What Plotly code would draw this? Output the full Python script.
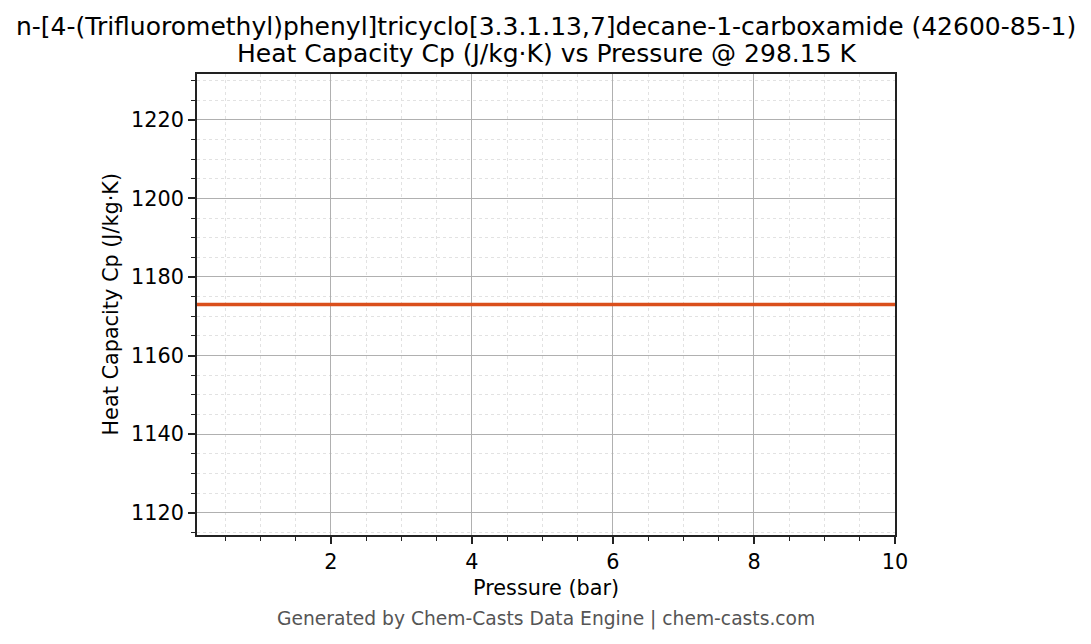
import plotly.graph_objects as go

pressure_bar = [0.1, 1, 2, 3, 4, 5, 6, 7, 8, 9, 10]
cp_values = [1173.0] * len(pressure_bar)
x_ticks = [2, 4, 6, 8, 10]
y_ticks = [1120, 1140, 1160, 1180, 1200, 1220]

title_line1 = "n-[4-(Trifluoromethyl)phenyl]tricyclo[3.3.1.13,7]decane-1-carboxamide (42600-85-1)"
title_line2 = "Heat Capacity Cp (J/kg·K) vs Pressure @ 298.15 K"
x_label = "Pressure (bar)"
y_label = "Heat Capacity Cp (J/kg·K)"
footer = "Generated by Chem-Casts Data Engine | chem-casts.com"

font = "DejaVu Sans, sans-serif"

fig = go.Figure()
fig.add_trace(go.Scatter(x=pressure_bar, y=cp_values, mode="lines",
                         line=dict(color="#DA4F1C", width=3.5), showlegend=False))

cp_mid = cp_values[0]
axis_common = dict(
    showline=True, linecolor="#222", linewidth=1.7, mirror=True,
    ticks="outside", ticklen=7, tickwidth=1.6, tickcolor="#222",
    showgrid=True, gridcolor="#b0b0b0", gridwidth=1,
    zeroline=False,
    tickfont=dict(family=font, size=20.8, color="#000"),
)
fig.update_xaxes(
    range=[0.1, 10], tickvals=x_ticks,
    minor=dict(dtick=0.5, tick0=0, ticks="outside", ticklen=4, tickwidth=1.2, tickcolor="#222",
               showgrid=True, gridcolor="#e2e2e2", gridwidth=0.7, griddash="dot"),
    **axis_common)
fig.update_yaxes(
    range=[cp_mid * 0.95, cp_mid * 1.05], tickvals=y_ticks,
    minor=dict(dtick=5, tick0=0, ticks="outside", ticklen=4, tickwidth=1.2, tickcolor="#222",
               showgrid=True, gridcolor="#e2e2e2", gridwidth=0.7, griddash="dot"),
    **axis_common)

fig.update_layout(
    width=1091, height=644,
    margin=dict(l=189, r=204, t=66, b=117),
    paper_bgcolor="white", plot_bgcolor="white",
    font=dict(family=font, color="#000"),
    annotations=[
        dict(text=title_line1, xref="paper", yref="paper", x=0.5, y=1.104,
             xanchor="center", yanchor="middle", showarrow=False,
             font=dict(family=font, size=25, color="#000")),
        dict(text=title_line2, xref="paper", yref="paper", x=0.5, y=1.0434,
             xanchor="center", yanchor="middle", showarrow=False,
             font=dict(family=font, size=25, color="#000")),
        dict(text=x_label, xref="paper", yref="paper", x=0.5, y=-0.115,
             xanchor="center", yanchor="middle", showarrow=False,
             font=dict(family=font, size=20.8, color="#000")),
        dict(text=y_label, xref="paper", yref="paper", x=-0.1246, y=0.5,
             xanchor="center", yanchor="middle", showarrow=False, textangle=-90,
             font=dict(family=font, size=20.8, color="#000")),
        dict(text=footer, xref="paper", yref="paper", x=0.5, y=-0.182,
             xanchor="center", yanchor="middle", showarrow=False,
             font=dict(family=font, size=18.7, color="#555")),
    ],
)
fig.write_html("out.html")
